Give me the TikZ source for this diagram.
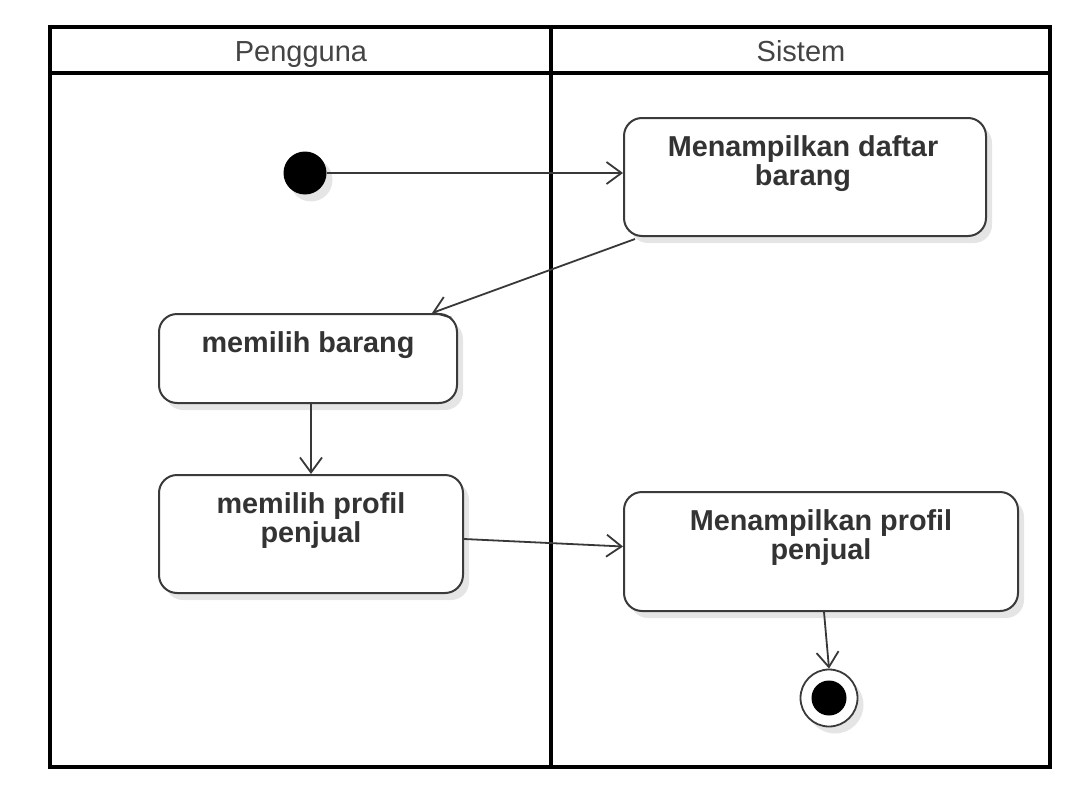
\documentclass[tikz,border=0pt]{standalone}
\usepackage{fontspec}
\setmainfont{Liberation Sans}
\usetikzlibrary{arrows.meta,shadows,calc}
\definecolor{boxline}{HTML}{3A3A3A}
\definecolor{boxtxt}{HTML}{333333}
\definecolor{headtxt}{HTML}{444444}
\definecolor{flowline}{HTML}{383838}
\tikzset{
  lane/.style={draw=black, line width=3.2pt},
  headlabel/.style={text=headtxt, font=\fontsize{29}{30}\selectfont, anchor=base, inner sep=0pt},
  actbox/.style={draw=boxline, line width=2pt, rounded corners=18pt, fill=white, anchor=north west,
    inner sep=0pt, drop shadow={shadow xshift=6pt, shadow yshift=-7pt, opacity=0.10, fill=black}},
  acttext/.style={text=boxtxt, font=\bfseries\fontsize{28.8}{29}\selectfont, align=center, anchor=north, inner sep=0pt},
  flow/.style={draw=flowline, line width=1.8pt, -{Straight Barb[length=15pt, width=22pt, line width=1.8pt]}},
}
\begin{document}
\begin{tikzpicture}[x=1pt,y=-1pt]
\useasboundingbox (0,0) rectangle (1092,792);
\fill[white] (0,0) rectangle (1092,792);

% swimlanes
\draw[lane] (50,27) rectangle (1050,767);
\draw[lane] (50,73) -- (1050,73);
\draw[lane] (551,27) -- (551,767);
\node[headlabel] (h1) at (301,62) {Pengguna};
\node[headlabel] (h2) at (801,62) {Sistem};

% start
\node[circle, fill=black, minimum size=43pt, inner sep=0pt,
  drop shadow={shadow xshift=6pt, shadow yshift=-7pt, opacity=0.10, fill=black}] (s) at (305,173) {};

% activities
\node[actbox, minimum width=362pt, minimum height=118pt] (b1) at (623,117) {};
\node[acttext] (t1) at ($(b1.north)+(-2,18)$) {Menampilkan daftar\\barang};

\node[actbox, minimum width=298pt, minimum height=89pt] (b2) at (158,313) {};
\node[acttext] (t2) at ($(b2.north)+(0,18)$) {memilih barang};

\node[actbox, minimum width=304pt, minimum height=118pt] (b3) at (158,474) {};
\node[acttext] (t3) at ($(b3.north)+(0,18)$) {memilih profil\\penjual};

\node[actbox, minimum width=394pt, minimum height=119pt] (b4) at (623,491) {};
\node[acttext] (t4) at ($(b4.north)+(0,18)$) {Menampilkan profil\\penjual};

% end
\node[circle, draw=boxline, line width=1.8pt, fill=white, minimum size=57pt, inner sep=0pt,
  drop shadow={shadow xshift=6pt, shadow yshift=-7pt, opacity=0.10, fill=black}] (e) at (829,698) {};
\node[circle, fill=black, minimum size=35pt, inner sep=0pt] (ei) at (e.center) {};

% connector end points
\coordinate (p1) at ($(b1.south west)+(12,2)$);
\coordinate (p2) at ($(b2.north east)+(-26,0)$);
\coordinate (p3) at ($(b2.south)+(3,0)$);
\coordinate (p4) at ($(b3.east)+(0,5)$);
\coordinate (p5) at ($(b4.west)+(0,-5)$);
\coordinate (p6) at ($(b4.south)+(3,0)$);

% flows
\draw[flow] (s.east) -- (s.east -| b1.west);
\draw[flow] (p1) -- (p2);
\draw[flow] (p3) -- (p3 |- b3.north);
\draw[flow] (p4) -- (p5);
\draw[flow] (p6) -- (e.north);
\end{tikzpicture}
\end{document}
